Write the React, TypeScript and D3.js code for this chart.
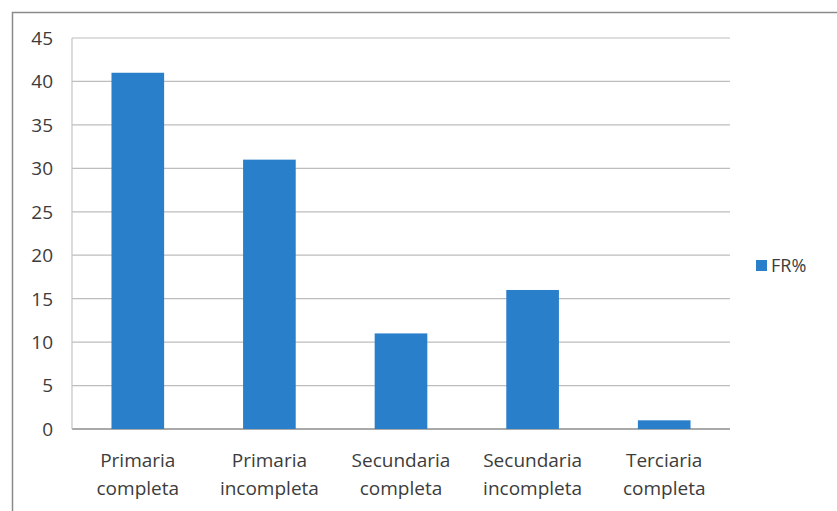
import React from "react";
import * as d3 from "d3";

const categories: string[][] = [
  ["Primaria", "completa"],
  ["Primaria", "incompleta"],
  ["Secundaria", "completa"],
  ["Secundaria", "incompleta"],
  ["Terciaria", "completa"],
];
const values: number[] = [41, 31, 11, 16, 1];
const yTicks: number[] = [0, 5, 10, 15, 20, 25, 30, 35, 40, 45];
const seriesName = "FR%";

const W = 837;
const H = 511;
const plot = { left: 72, right: 730, top: 38, bottom: 429 };
const FONT = "'Open Sans', 'Noto Sans', sans-serif";
const BAR = "#2a7fcb";
const TEXT = "#3c3c3c";

export default function App() {
  const x = d3
    .scaleBand<number>()
    .domain(d3.range(categories.length))
    .range([plot.left, plot.right])
    .paddingInner(0.6)
    .paddingOuter(0.3);
  const y = d3.scaleLinear().domain([0, 45]).range([plot.bottom, plot.top]);

  return (
    <svg
      width={W}
      height={H}
      style={{ position: "absolute", left: 0, top: 0, background: "#fff" }}
      fontFamily={FONT}
    >
      <rect x={0} y={0} width={W} height={H} fill="#fff" />
      <rect x={12.5} y={12.5} width={W + 10} height={H + 10} fill="none" stroke="#8a8a8a" strokeWidth={1.5} />
      {yTicks.map((t) => (
        <g key={t}>
          <line
            x1={plot.left}
            x2={plot.right}
            y1={y(t)}
            y2={y(t)}
            stroke={t === 0 ? "#8c8c8c" : "#bdbdbd"}
            strokeWidth={t === 0 ? 1.5 : 1.2}
          />
          <text x={53} y={y(t)} dy="0.36em" textAnchor="end" fontSize={19} fill={TEXT}>
            {t}
          </text>
        </g>
      ))}
      <line x1={plot.left} x2={plot.left} y1={plot.top} y2={plot.bottom} stroke="#c4c4c4" strokeWidth={1.2} />
      {values.map((v, i) => (
        <rect
          key={i}
          x={x(i)!}
          y={y(v)}
          width={x.bandwidth()}
          height={y(0) - y(v)}
          fill={BAR}
        />
      ))}
      {categories.map((lines, i) => (
        <text
          key={i}
          x={x(i)! + x.bandwidth() / 2}
          y={467}
          textAnchor="middle"
          fontSize={19}
          fill={TEXT}
        >
          {lines.map((l, j) => (
            <tspan key={j} x={x(i)! + x.bandwidth() / 2} dy={j === 0 ? 0 : 28}>
              {l}
            </tspan>
          ))}
        </text>
      ))}
      <rect x={756} y={260} width={11} height={11} fill={BAR} />
      <text x={771} y={266} dy="0.36em" fontSize={18} fill={TEXT}>
        {seriesName}
      </text>
    </svg>
  );
}
